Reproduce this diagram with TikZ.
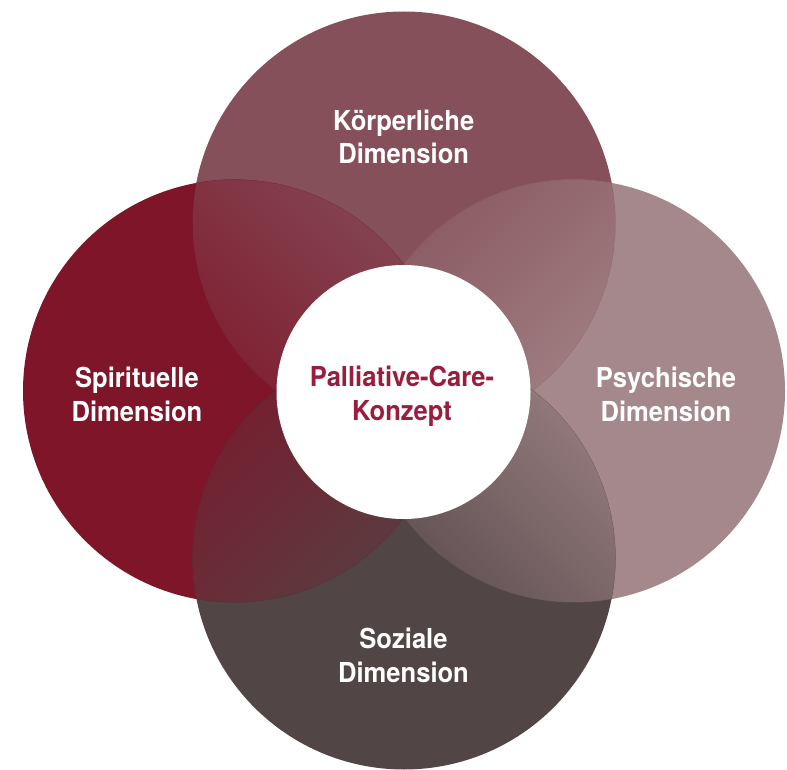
\documentclass[tikz,border=0pt]{standalone}
\usepackage{fontspec}
\newfontfamily\lblfont{TeX Gyre Heros}[FakeStretch=0.93]
\definecolor{cT}{HTML}{85505A}
\definecolor{cL}{HTML}{7E1529}
\definecolor{cR}{HTML}{A5888B}
\definecolor{cB}{HTML}{524546}
\definecolor{cText}{HTML}{9A1D3D}
\tikzset{
  lbl/.style={text=white, font=\lblfont\bfseries\fontsize{27.5}{33}\selectfont, inner sep=0pt, anchor=base},
  ctr/.style={text=cText, font=\lblfont\bfseries\fontsize{27.5}{33}\selectfont, inner sep=0pt, anchor=base},
  edge/.style={draw=black, draw opacity=0.12, line width=0.5pt}
}
\begin{document}
\begin{tikzpicture}[x=1pt,y=-1pt]
\useasboundingbox (0,0) rectangle (787,770);
\def\R{211.5}
\coordinate (T) at (404,223);
\coordinate (L) at (234.5,391);
\coordinate (Rr) at (573.5,391);
\coordinate (B) at (404,558);
\coordinate (C) at (403.5,392);
% base circles
\fill[cT] (T) circle (\R);
\fill[cL] (L) circle (\R);
\fill[cR] (Rr) circle (\R);
\fill[cB] (B) circle (\R);
% lens TL
\begin{scope}
  \clip (T) circle (\R); \clip (L) circle (\R);
  \begin{scope}[transform canvas={shift={(319.25,307)}, rotate=45}]
    \shade[left color=cL, right color=cT] (-180,-300) rectangle (180,300);
  \end{scope}
  \draw[edge] (T) circle (\R); \draw[edge] (L) circle (\R);
\end{scope}
% lens TR
\begin{scope}
  \clip (T) circle (\R); \clip (Rr) circle (\R);
  \begin{scope}[transform canvas={shift={(488.75,307)}, rotate=-45}]
    \shade[left color=cT, right color=cR] (-180,-300) rectangle (180,300);
  \end{scope}
  \draw[edge] (T) circle (\R); \draw[edge] (Rr) circle (\R);
\end{scope}
% lens BL
\begin{scope}
  \clip (B) circle (\R); \clip (L) circle (\R);
  \begin{scope}[transform canvas={shift={(319.25,474.5)}, rotate=-45}]
    \shade[left color=cL, right color=cB] (-180,-300) rectangle (180,300);
  \end{scope}
  \draw[edge] (B) circle (\R); \draw[edge] (L) circle (\R);
\end{scope}
% lens BR
\begin{scope}
  \clip (B) circle (\R); \clip (Rr) circle (\R);
  \begin{scope}[transform canvas={shift={(488.75,474.5)}, rotate=45}]
    \shade[left color=cB, right color=cR] (-180,-300) rectangle (180,300);
  \end{scope}
  \draw[edge] (B) circle (\R); \draw[edge] (Rr) circle (\R);
\end{scope}
% centre
\fill[white] (C) circle (127);
% labels
\node[lbl] (t1) at (403.7,131) {Körperliche};
\node[lbl] (t2) at (403.7,164) {Dimension};
\node[lbl] (l1) at (137,387) {Spirituelle};
\node[lbl] (l2) at (137,421) {Dimension};
\node[lbl] (r1) at (666,387) {Psychische};
\node[lbl] (r2) at (666,421) {Dimension};
\node[lbl] (b1) at (403.5,648) {Soziale};
\node[lbl] (b2) at (403.5,682) {Dimension};
\node[ctr] (c1) at (402,386) {Palliative-Care-};
\node[ctr] (c2) at (402,420) {Konzept};
\end{tikzpicture}
\end{document}
